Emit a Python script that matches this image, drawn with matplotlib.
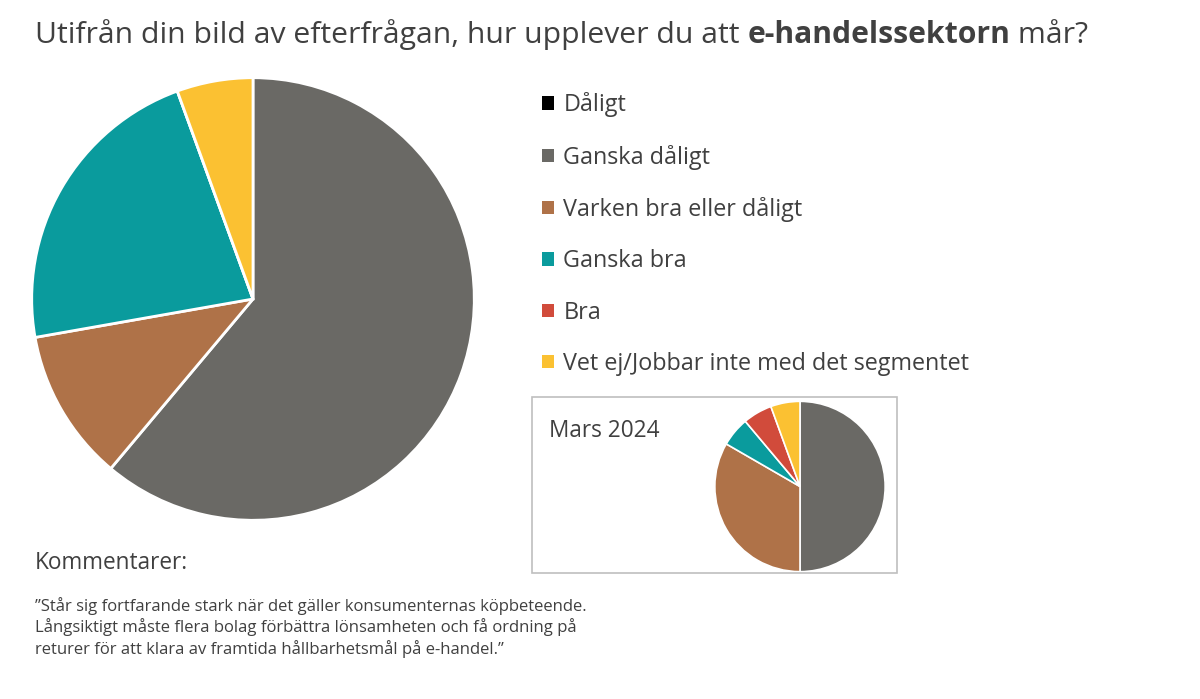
import matplotlib.pyplot as plt
from matplotlib.patches import Rectangle

plt.rcParams['font.family'] = ['Open Sans', 'DejaVu Sans']

W, H = 1200, 699

categories = ['Dåligt', 'Ganska dåligt', 'Varken bra eller dåligt',
              'Ganska bra', 'Bra', 'Vet ej/Jobbar inte med det segmentet']
colors = ['#000000', '#6A6965', '#AF7248', '#0A9B9D', '#D14B3B', '#FBC132']

# antal svar, aktuell mätning
now_counts = [0, 11, 2, 4, 0, 1]
# antal svar, mars 2024
mars_counts = [0, 9, 6, 1, 1, 1]

title_regular = 'Utifrån din bild av efterfrågan, hur upplever du att '
title_bold = 'e-handelssektorn'
title_end = ' mår?'
inset_label = 'Mars 2024'
comment_head = 'Kommentarer:'
comment_text = ('\u201dStår sig fortfarande stark när det gäller konsumenternas köpbeteende.\n'
                'Långsiktigt måste flera bolag förbättra lönsamheten och få ordning på\n'
                'returer för att klara av framtida hållbarhetsmål på e-handel.\u201d')

txt = '#404040'


def px_axes(fig, cx, cy, r):
    return fig.add_axes([(cx - r) / W, 1 - (cy + r) / H, 2 * r / W, 2 * r / H])


fig = plt.figure(figsize=(W / 100, H / 100), dpi=100)

# main pie
ax = px_axes(fig, 253, 299, 223.5)
wedges, _ = ax.pie(now_counts, colors=colors, startangle=90, counterclock=False,
                   radius=1, wedgeprops=dict(edgecolor='white', linewidth=2))
ax.set_xlim(-1.01, 1.01)
ax.set_ylim(-1.01, 1.01)
ax.set_aspect('equal')
ax.axis('off')

# inset frame
fig.patches.append(Rectangle((532 / W, 1 - 573 / H), 365 / W, 176 / H,
                             transform=fig.transFigure, fill=False,
                             edgecolor='#BFBFBF', linewidth=1.2))
fig.text(549 / W, 1 - 437 / H, inset_label, fontsize=16.3, color=txt)

ax2 = px_axes(fig, 800, 486.5, 86)
ax2.pie(mars_counts, colors=colors, startangle=90, counterclock=False,
        radius=1, wedgeprops=dict(edgecolor='white', linewidth=1.2))
ax2.set_xlim(-1.01, 1.01)
ax2.set_ylim(-1.01, 1.01)
ax2.set_aspect('equal')
ax2.axis('off')

# legend
leg = fig.legend(wedges, categories, loc='upper left',
                 bbox_to_anchor=(533 / W, 1 - 83 / H), frameon=False,
                 fontsize=16.8, handlelength=0.5, handleheight=0.5,
                 handletextpad=0.4, labelspacing=1.17, borderaxespad=0)
for t in leg.get_texts():
    t.set_color(txt)
for h in leg.legend_handles:
    h.set_edgecolor('none')

# title with bold part
fs = 21.7
t1 = fig.text(35 / W, 1 - 43 / H, title_regular, fontsize=fs, color=txt,
              va='baseline')
fig.canvas.draw()
r = fig.canvas.get_renderer()
bb = t1.get_window_extent(r)
t2 = fig.text(bb.x1 / W, 1 - 43 / H, title_bold, fontsize=fs, color=txt,
              fontweight='bold', va='baseline')
bb2 = t2.get_window_extent(r)
fig.text(bb2.x1 / W, 1 - 43 / H, title_end, fontsize=fs, color=txt,
         va='baseline')

# comments
fig.text(35 / W, 1 - 569 / H, comment_head, fontsize=16.3, color=txt, va='baseline')
fig.text(35 / W, 1 - 597 / H, comment_text, fontsize=12, color=txt, va='top',
         linespacing=1.25)

fig.savefig('out.png', dpi=100)
